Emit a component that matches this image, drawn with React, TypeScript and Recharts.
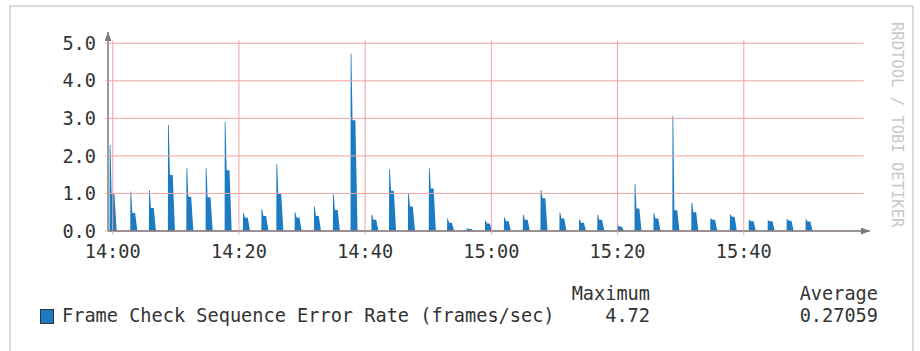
import React from "react";
import { AreaChart, Area, XAxis, YAxis, ReferenceLine } from "recharts";

// minutes after 14:00 at which each error burst starts
const spikeMinutes = [
  -0.48, 2.8, 5.75, 8.76, 11.68, 14.74, 17.75, 20.65, 23.57, 25.94, 28.84, 31.9,
  34.9, 37.7, 41.0, 43.8, 46.8, 50.1, 53.0, 56.1, 59.0, 62.0, 65.0, 67.8, 70.8,
  73.9, 76.8, 79.9, 82.7, 85.7, 88.7, 91.7, 94.7, 97.8, 100.8, 103.8, 106.8, 109.8,
];
// peak rate of each burst (frames/sec)
const spikePeaks = [
  2.29, 1.05, 1.09, 2.82, 1.67, 1.67, 2.9, 0.47, 0.58, 1.78, 0.49, 0.65,
  0.98, 4.72, 0.43, 1.64, 1.0, 1.67, 0.33, 0.07, 0.27, 0.36, 0.43, 1.09, 0.49,
  0.31, 0.43, 0.2, 1.25, 0.47, 3.06, 0.75, 0.33, 0.44, 0.29, 0.28, 0.31, 0.31,
];
// level the burst settles at right after the peak
const spikeLevels = [
  1.0, 0.48, 0.61, 1.49, 0.91, 0.9, 1.62, 0.35, 0.4, 1.0, 0.35, 0.4,
  0.56, 2.95, 0.3, 1.07, 0.65, 1.13, 0.22, 0.05, 0.2, 0.26, 0.3, 0.87, 0.33,
  0.22, 0.3, 0.12, 0.6, 0.33, 0.55, 0.5, 0.3, 0.38, 0.26, 0.26, 0.27, 0.25,
];

const xTickValues = [0, 20, 40, 60, 80, 100];
const xTickLabels = ["14:00", "14:20", "14:40", "15:00", "15:20", "15:40"];
const yTickValues = [0, 1, 2, 3, 4, 5];

const seriesName = "Frame Check Sequence Error Rate (frames/sec)";
const maxLabel = "Maximum";
const avgLabel = "Average";
const maxValue = "4.72";
const avgValue = "0.27059";
const watermark = "RRDTOOL / TOBI OETIKER";

const data: { m: number; v: number }[] = [];
spikeMinutes.forEach((t, i) => {
  data.push(
    { m: t - 0.02, v: 0 },
    { m: t, v: spikePeaks[i] },
    { m: t + 0.12, v: spikePeaks[i] },
    { m: t + 0.3, v: spikeLevels[i] },
    { m: t + 0.75, v: spikeLevels[i] },
    { m: t + 1.1, v: 0 }
  );
});

const MONO = "'DejaVu Sans Mono', monospace";
const BLUE = "#1c7bc2";
const GRID = "#f3a3a3";
const AXIS = "#7a7a7a";
const TEXT = "#333";

export default function App() {
  return (
    <div
      style={{
        position: "absolute",
        left: 0,
        top: 0,
        width: 920,
        height: 351,
        overflow: "hidden",
        background: "#fff",
      }}
    >
      <svg width={0} height={0} style={{ position: "absolute" }}>
        <defs>
          <marker
            id="axisArrow"
            markerUnits="userSpaceOnUse"
            markerWidth={9}
            markerHeight={7}
            refX={9}
            refY={3.5}
            orient="auto-start-reverse"
          >
            <path d="M0,0 L9,3.5 L0,7 z" fill={AXIS} />
          </marker>
        </defs>
      </svg>
      <div
        style={{
          position: "absolute",
          left: 9,
          top: 5,
          width: 905,
          height: 400,
          border: "2px solid #dcdcdc",
          boxSizing: "border-box",
        }}
      />
      <div style={{ position: "absolute", left: 0, top: 0 }}>
        <AreaChart
          width={920}
          height={351}
          data={data}
          margin={{ top: 32, right: 50, bottom: 90, left: 48 }}
        >
          {yTickValues.map((y) => (
            <ReferenceLine
              key={"h" + y}
              segment={[
                { x: -0.75, y },
                { x: 119, y },
              ]}
              stroke={GRID}
              strokeWidth={1}
            />
          ))}
          {xTickValues.map((x) => (
            <ReferenceLine
              key={"v" + x}
              segment={[
                { x, y: 0 },
                { x, y: 5.08 },
              ]}
              stroke={GRID}
              strokeWidth={1}
            />
          ))}
          <XAxis
            dataKey="m"
            type="number"
            domain={[-0.75, 120]}
            ticks={xTickValues}
            tickFormatter={(v: number) => xTickLabels[xTickValues.indexOf(v)] ?? ""}
            allowDataOverflow
            height={30}
            tickSize={4}
            tickMargin={10}
            tickLine={{ stroke: "#e8b0b0" }}
            axisLine={{ stroke: AXIS, strokeWidth: 1.5, markerEnd: "url(#axisArrow)" }}
            tick={{ fontFamily: MONO, fontSize: 18.6, fill: TEXT }}
          />
          <YAxis
            type="number"
            domain={[0, 5.3]}
            ticks={yTickValues}
            allowDataOverflow
            width={60}
            tickSize={3}
            tickMargin={9}
            tickLine={{ stroke: "#e8b0b0" }}
            tickFormatter={(v: number) => v.toFixed(1)}
            axisLine={{ stroke: AXIS, strokeWidth: 1.5, markerStart: "url(#axisArrow)" }}
            tick={{ fontFamily: MONO, fontSize: 18.6, fill: TEXT }}
          />
          <Area
            type="linear"
            dataKey="v"
            stroke="none"
            fill={BLUE}
            fillOpacity={1}
            isAnimationActive={false}
            dot={false}
            activeDot={false}
          />
        </AreaChart>
      </div>
      <div
        style={{
          position: "absolute",
          left: 889,
          top: 22,
          writingMode: "vertical-rl",
          fontFamily: MONO,
          fontSize: 15.5,
          color: "#c8c8c8",
          whiteSpace: "nowrap",
          lineHeight: "16px",
        }}
      >
        {watermark}
      </div>
      <div
        style={{
          position: "absolute",
          left: 40,
          top: 309,
          width: 12,
          height: 13,
          background: BLUE,
          border: "1px solid #333",
        }}
      />
      {[
        { text: seriesName, left: 62, top: 306, align: "left" as const, width: 520 },
        { text: maxLabel, left: 520, top: 284, align: "right" as const, width: 130 },
        { text: maxValue, left: 520, top: 306, align: "right" as const, width: 130 },
        { text: avgLabel, left: 748, top: 284, align: "right" as const, width: 130 },
        { text: avgValue, left: 748, top: 306, align: "right" as const, width: 130 },
      ].map((t) => (
        <div
          key={t.text}
          style={{
            position: "absolute",
            left: t.left,
            top: t.top,
            width: t.width,
            textAlign: t.align,
            fontFamily: MONO,
            fontSize: 18.6,
            lineHeight: "20px",
            color: TEXT,
            whiteSpace: "pre",
          }}
        >
          {t.text}
        </div>
      ))}
    </div>
  );
}
